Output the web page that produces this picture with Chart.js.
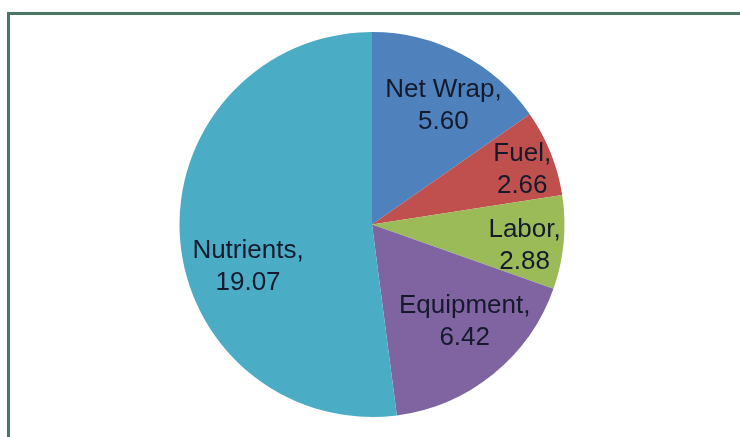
<!DOCTYPE html>
<html>
<head>
<meta charset="utf-8">
<script src="https://cdn.jsdelivr.net/npm/chart.js@4.4.0/dist/chart.umd.min.js"></script>
<style>
  html, body { margin: 0; padding: 0; background: #fff; }
  #wrap { position: relative; width: 740px; height: 437px; overflow: hidden; }
  #frame {
    position: absolute; left: 7px; top: 12px; width: 760px; height: 460px;
    border: 3px solid #4a7664; box-sizing: border-box;
  }
  #c { position: absolute; left: 0; top: 0; }
</style>
</head>
<body>
<div id="wrap">
  <div id="frame"></div>
  <canvas id="c" width="740" height="437"></canvas>
</div>
<script>
// du lieu doc tu hinh
var categories = ['Net Wrap', 'Fuel', 'Labor', 'Equipment', 'Nutrients'];
var values     = [5.60, 2.66, 2.88, 6.42, 19.07];
var colors     = ['#4f81bd', '#c0504d', '#9bbb59', '#8064a2', '#4bacc6'];

// vi tri nhan: ti le ban kinh + lech goc (do)
var labelRadius = [0.72, 0.83, 0.80, 0.70, 0.68];
var labelShift  = [3.5, 2, 2.5, -4.5, -15];

var pieLabels = {
  id: 'pieLabels',
  afterDatasetsDraw: function (chart) {
    var ctx = chart.ctx;
    var meta = chart.getDatasetMeta(0);
    ctx.save();
    ctx.font = '26px "Liberation Sans", Arial, sans-serif';
    ctx.fillStyle = '#141a2c';
    ctx.textAlign = 'center';
    ctx.textBaseline = 'middle';
    meta.data.forEach(function (arc, i) {
      var p = arc.getProps(['x', 'y', 'startAngle', 'endAngle', 'outerRadius'], true);
      var mid = (p.startAngle + p.endAngle) / 2 + labelShift[i] * Math.PI / 180;
      var r = p.outerRadius * labelRadius[i];
      var x = p.x + Math.cos(mid) * r;
      var y = p.y + Math.sin(mid) * r;
      ctx.fillText(categories[i] + ',', x, y - 16);
      ctx.fillText(values[i].toFixed(2), x, y + 16);
    });
    ctx.restore();
  }
};

new Chart(document.getElementById('c'), {
  type: 'pie',
  data: {
    labels: categories,
    datasets: [{
      data: values,
      backgroundColor: colors,
      borderWidth: 0
    }]
  },
  options: {
    responsive: false,
    animation: false,
    layout: { padding: { top: 32, bottom: 20, left: 4, right: 0 } },
    plugins: {
      legend: { display: false },
      tooltip: { enabled: false }
    }
  },
  plugins: [pieLabels]
});
</script>
</body>
</html>
